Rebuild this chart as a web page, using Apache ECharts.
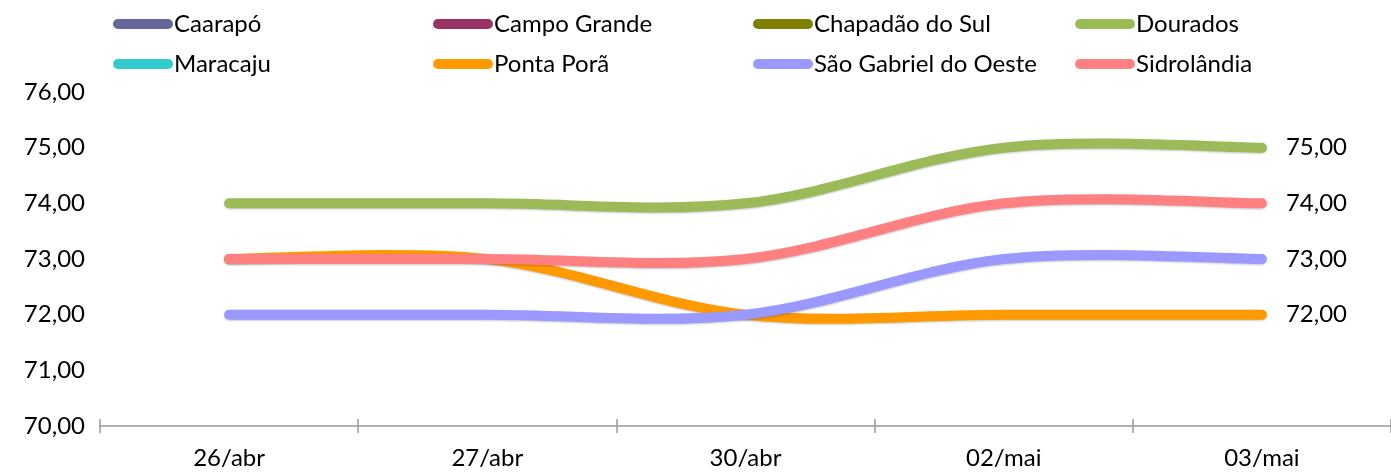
<!DOCTYPE html>
<html>
<head>
<meta charset="utf-8">
<script src="https://cdn.jsdelivr.net/npm/echarts@6/dist/echarts.min.js"></script>
<style>
  html, body { margin: 0; padding: 0; background: #fff; }
  #chart { width: 1391px; height: 472px; }
</style>
</head>
<body>
<div id="chart"></div>
<script>
// Dates on the category axis
const categories = ['26/abr', '27/abr', '30/abr', '02/mai', '03/mai'];

// Prices per city (null = no value for that day)
const caarapo       = [null, null, null, null, null];
const campoGrande   = [null, null, null, null, null];
const chapadaoDoSul = [null, null, null, null, null];
const dourados      = [74, 74, 74, 75, 75];
const maracaju      = [null, null, null, null, null];
const pontaPora     = [73, 73, 72, 72, 72];
const saoGabriel    = [72, 72, 72, 73, 73];
const sidrolandia   = [73, 73, 73, 74, 74];

const seriesNames = ['Caarapó', 'Campo Grande', 'Chapadão do Sul', 'Dourados',
                     'Maracaju', 'Ponta Porã', 'São Gabriel do Oeste', 'Sidrolândia'];
const seriesValues = [caarapo, campoGrande, chapadaoDoSul, dourados,
                      maracaju, pontaPora, saoGabriel, sidrolandia];
const seriesColors = ['#666699', '#993366', '#808000', '#9BBB59',
                      '#33CCCC', '#FF9900', '#9999FF', '#FF8080'];

const FONT = 'Lato';
const FS = 24;
const fmt = v => Number(v).toFixed(2).replace('.', ',');
const pill = 'path://M5,0 H55 A5,5 0 0 1 55,10 H5 A5,5 0 0 1 5,0 Z';

// Legend laid out as a 4-column grid, one legend component per entry
const legendCols = [108, 428, 748, 1070];
const legendRows = [7, 47];
const legends = seriesNames.map((name, i) => ({
  data: [name],
  left: legendCols[i % 4],
  top: legendRows[Math.floor(i / 4)],
  icon: pill,
  itemWidth: 60,
  itemHeight: 10,
  itemGap: 0,
  selectedMode: false,
  textStyle: { fontFamily: FONT, fontSize: FS, color: '#000', padding: [0, 0, 0, -4] }
}));

// Whole smoothed line (Catmull-Rom beziers through the category points),
// drawn once at the last point together with its value label
function makeRenderItem(values, color) {
  return function (params, api) {
    const n = values.length;
    const j = params.dataIndex;
    if (j !== n - 1 || values.some(v => v == null)) return null;
    const pts = values.map((v, k) => api.coord([k, v]));
    const pt = k => pts[Math.max(0, Math.min(n - 1, k))];
    let d = 'M' + pts[0][0] + ' ' + pts[0][1];
    for (let k = 0; k < n - 1; k++) {
      const p0 = pt(k - 1), p1 = pt(k), p2 = pt(k + 1), p3 = pt(k + 2);
      d += ' C' + (p1[0] + (p2[0] - p0[0]) / 6) + ' ' + (p1[1] + (p2[1] - p0[1]) / 6) +
           ' ' + (p2[0] - (p3[0] - p1[0]) / 6) + ' ' + (p2[1] - (p3[1] - p1[1]) / 6) +
           ' ' + p2[0] + ' ' + p2[1];
    }
    const last = pts[n - 1];
    return {
      type: 'group',
      children: [
        {
          type: 'path',
          shape: { pathData: d },
          style: {
            fill: null,
            stroke: color,
            lineWidth: 10,
            lineCap: 'round',
            lineJoin: 'round',
            shadowColor: 'rgba(0,0,0,0.22)',
            shadowBlur: 2,
            shadowOffsetY: 1
          }
        },
        {
          type: 'text',
          x: last[0] + 24,
          y: last[1],
          style: {
            text: fmt(values[n - 1]),
            fontFamily: FONT,
            fontSize: FS,
            fill: '#000',
            verticalAlign: 'middle',
            align: 'left'
          }
        }
      ]
    };
  };
}

const chart = echarts.init(document.getElementById('chart'));
chart.setOption({
  animation: false,
  backgroundColor: '#fff',
  legend: legends,
  grid: { left: 100, top: 92, width: 1295, height: 334 },
  xAxis: [
    {
      type: 'category',
      data: categories,
      boundaryGap: true,
      axisLine: { lineStyle: { color: '#999', width: 1.5 } },
      axisTick: { show: true, length: 7, lineStyle: { color: '#999', width: 1.5 } },
      axisLabel: { fontFamily: FONT, fontSize: FS, color: '#000', margin: 20 }
    },
    {
      type: 'category',
      data: categories,
      boundaryGap: true,
      position: 'bottom',
      axisLine: { show: false },
      axisTick: { show: true, inside: true, length: 7, lineStyle: { color: '#999', width: 1.5 } },
      axisLabel: { show: false }
    }
  ],
  yAxis: {
    type: 'value',
    min: 70,
    max: 76,
    interval: 1,
    axisLine: { show: false },
    axisTick: { show: false },
    splitLine: { show: false },
    axisLabel: { fontFamily: FONT, fontSize: FS, color: '#000', margin: 15, formatter: fmt }
  },
  series: seriesNames.map((name, i) => ({
    name: name,
    type: 'custom',
    xAxisIndex: 0,
    yAxisIndex: 0,
    clip: false,
    itemStyle: { color: seriesColors[i] },
    encode: { x: 0, y: 1 },
    data: seriesValues[i].map((v, j) => [j, v]),
    renderItem: makeRenderItem(seriesValues[i], seriesColors[i])
  }))
});
</script>
</body>
</html>
